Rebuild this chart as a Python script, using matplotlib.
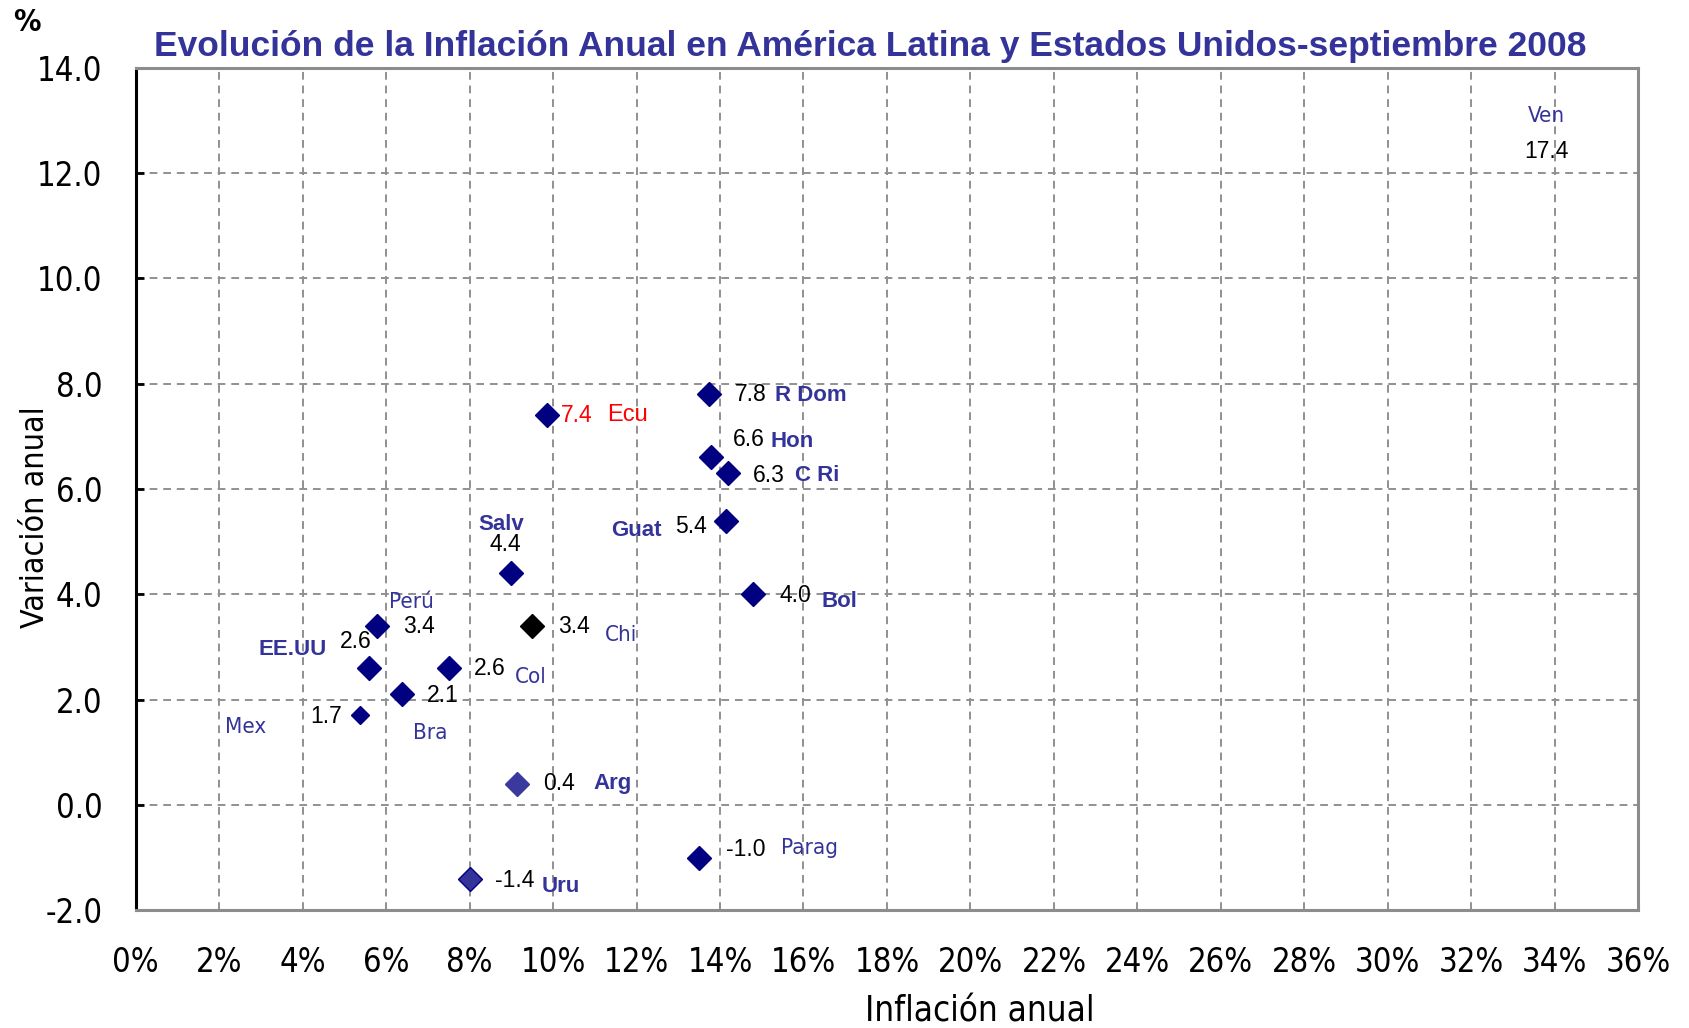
import matplotlib
matplotlib.use("Agg")
import matplotlib.pyplot as plt
from matplotlib.ticker import FuncFormatter
from matplotlib import font_manager as fm

# ---------------- data ----------------
countries = ["R Dom", "Ecu", "Hon", "C Ri", "Guat", "Bol", "Salv", "Chi", "Perú",
             "EE.UU", "Col", "Bra", "Mex", "Arg", "Parag", "Uru"]
inflation = [0.1373, 0.0986, 0.1378, 0.1419, 0.1414, 0.1479, 0.0900, 0.0950, 0.0578,
             0.0560, 0.0751, 0.0637, 0.0537, 0.0914, 0.1350, 0.0800]
variation = [7.8, 7.4, 6.6, 6.3, 5.4, 4.0, 4.4, 3.4, 3.4,
             2.6, 2.6, 2.1, 1.7, 0.4, -1.0, -1.4]
value_labels = ["7.8", "7.4", "6.6", "6.3", "5.4", "4.0", "4.4", "3.4", "3.4",
                "2.6", "2.6", "2.1", "1.7", "0.4", "-1.0", "-1.4"]

# Venezuela: off the chart, shown only as text
ven_name = "Ven"
ven_value = "17.4"

x_ticks = [i / 100 for i in range(0, 37, 2)]
y_ticks = [-2.0, 0.0, 2.0, 4.0, 6.0, 8.0, 10.0, 12.0, 14.0]

title = "Evolución de la Inflación Anual en América Latina y Estados Unidos-septiembre 2008"
x_label = "Inflación anual"
y_label = "Variación anual"

# ---------------- styles / layout ----------------
NAVY = "#000080"
LABEL_BLUE = "#333399"
sans = ["Liberation Sans", "DejaVu Sans"]


def narrow_fp(size, weight="normal"):
    return fm.FontProperties(family="DejaVu Sans", stretch="condensed",
                             size=size, weight=weight)


marker_color = {c: NAVY for c in countries}
marker_color["Chi"] = "black"
marker_color["Arg"] = "#3a3a9e"
marker_color["Uru"] = "#333399"
marker_size = {c: 12 for c in countries}
marker_size["Mex"] = 9

name_bold = {"R Dom", "Hon", "C Ri", "Guat", "Bol", "Salv", "EE.UU", "Arg", "Uru"}
name_red = {"Ecu"}

# offsets in points: (dx, dy, ha) for value and name
val_off = {
    "R Dom": (19, 0, "left"), "Ecu": (10, 0, "left"), "Hon": (16, 13, "left"),
    "C Ri": (18, -1.5, "left"), "Guat": (-14, -4.5, "right"), "Bol": (19, -0.5, "left"),
    "Salv": (-4.5, 21, "center"), "Chi": (18.5, -0.5, "left"), "Perú": (19, -0.5, "left"),
    "EE.UU": (-9.5, 19, "center"), "Col": (18, 0, "left"), "Bra": (18.5, -1, "left"),
    "Mex": (-13, -0.5, "right"), "Arg": (18.5, 0, "left"), "Parag": (19, 6, "left"),
    "Uru": (18.5, -1.5, "left"),
}
name_off = {
    "R Dom": (48, -1, "left"), "Ecu": (43, 0, "left"), "Hon": (43, 11.5, "left"),
    "C Ri": (48, -1.5, "left"), "Guat": (-46.5, -7, "right"), "Bol": (49.5, -5.5, "left"),
    "Salv": (-7.5, 35, "center"), "Chi": (52, -6.2, "left"), "Perú": (8.5, 17, "left"),
    "EE.UU": (-31, 13, "right"), "Col": (47, -6.2, "left"), "Bra": (8.5, -28, "left"),
    "Mex": (-67.5, -8.5, "right"), "Arg": (55, 0, "left"), "Parag": (59, 7, "left"),
    "Uru": (52, -5.4, "left"),
}
ven_pos_x = 0.338
ven_name_y = 13.08
ven_val_y = 12.42

# ---------------- figure ----------------
fig = plt.figure(figsize=(16.89, 10.28), dpi=100)
ax = fig.add_axes([0.0803, 0.1146, 0.8897, 0.8194])
ax.set_xlim(0, 0.36)
ax.set_ylim(-2, 14)

ax.set_xticks(x_ticks)
ax.set_yticks(y_ticks)
ax.xaxis.set_major_formatter(FuncFormatter(lambda v, p: f"{v*100:.0f}%"))
ax.yaxis.set_major_formatter(FuncFormatter(lambda v, p: f"{v:.1f}"))

ax.grid(True, color="#919191", linestyle=(0, (4, 3)), linewidth=1.4)
ax.set_axisbelow(True)

for s in ["top", "right", "bottom"]:
    ax.spines[s].set_color("#8c8c8c")
    ax.spines[s].set_linewidth(2.2)
ax.spines["left"].set_color("black")
ax.spines["left"].set_linewidth(2.2)

ax.tick_params(axis="y", direction="in", length=6, width=2, color="black", pad=24)
ax.tick_params(axis="x", length=0, pad=26)
for lab in ax.get_xticklabels() + ax.get_yticklabels():
    lab.set_fontproperties(narrow_fp(23.5))

for i, c in enumerate(countries):
    ax.plot(inflation[i], variation[i], marker="D", linestyle="none",
            markersize=marker_size[c], color=marker_color[c],
            markeredgecolor=NAVY if c == "Uru" else marker_color[c], zorder=3)
    vdx, vdy, vha = val_off[c]
    ax.annotate(value_labels[i], (inflation[i], variation[i]), xytext=(vdx, vdy),
                textcoords="offset points", ha=vha, va="center", fontsize=16.5,
                family=sans, color="red" if c in name_red else "black", zorder=4)
    ndx, ndy, nha = name_off[c]
    if c in name_red:
        fp = fm.FontProperties(family=sans, size=17)
        ncol = "red"
    elif c in name_bold:
        fp = fm.FontProperties(family=sans, size=16, weight="bold")
        ncol = LABEL_BLUE
    else:
        fp = narrow_fp(16)
        ncol = LABEL_BLUE
    ax.annotate(c, (inflation[i], variation[i]), xytext=(ndx, ndy),
                textcoords="offset points", ha=nha, va="center",
                fontproperties=fp, color=ncol, zorder=4)

ax.text(ven_pos_x, ven_name_y, ven_name, ha="center", va="center",
        fontproperties=narrow_fp(16), color=LABEL_BLUE)
ax.text(ven_pos_x, ven_val_y, ven_value, ha="center", va="center", fontsize=16.5,
        family=sans, color="black")

fig.text(0.515, 0.955, title, ha="center", va="center", fontsize=25.5,
         fontweight="bold", family=sans, color=LABEL_BLUE)
fig.text(0.016, 0.978, "%", ha="center", va="center",
         fontproperties=narrow_fp(22, "bold"), color="black")
fig.text(0.58, 0.006, x_label, ha="center", va="baseline",
         fontproperties=narrow_fp(25), color="black")
fig.text(0.021, 0.497, y_label, ha="center", va="center", rotation=90,
         fontproperties=narrow_fp(23), color="black")

fig.savefig("out.png", dpi=100)
